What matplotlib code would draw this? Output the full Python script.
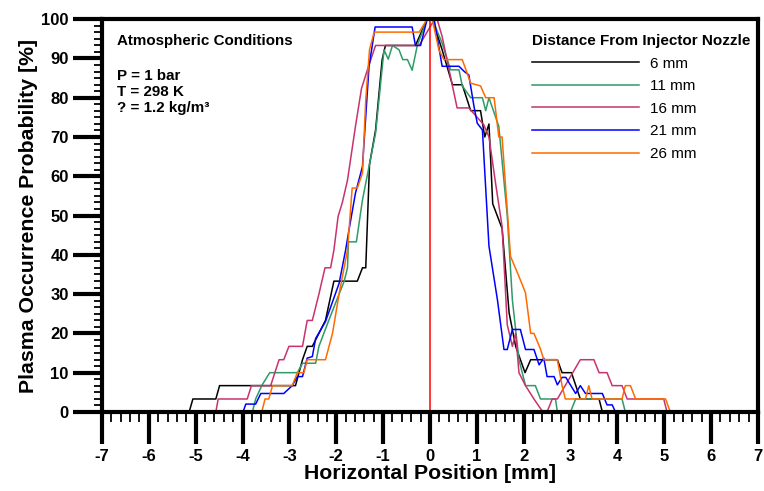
import numpy as np
import matplotlib
matplotlib.use("Agg")
import matplotlib.pyplot as plt
from matplotlib.ticker import MultipleLocator

plt.rcParams['font.family'] = ['Liberation Sans', 'DejaVu Sans']
plt.rcParams['axes.unicode_minus'] = False

# digitised vertices of each curve (position in mm, probability in %)
x_6 = [-5.14, -5.06, -4.57, -4.49, -2.87, -2.72, -2.62, -2.51, -2.37, -2.23,
       -2.05, -1.55, -1.44, -1.37, -1.29, -1.16, -1.02, -0.95, -0.31, -0.06,
       0.05, 0.26, 0.48, 0.69, 0.87, 1.08, 1.17, 1.26, 1.34, 1.54, 1.69, 1.83,
       2.03, 2.15, 2.72, 2.82, 3.02, 3.21, 3.61, 3.68]
y_6 = [0, 3.3, 3.3, 6.7, 6.7, 13.3, 16.7, 16.7, 20, 23.3,
       33.3, 33.3, 36.7, 36.7, 63, 71.8, 89.7, 93.3, 93.3, 100,
       100, 92.2, 83.3, 83.3, 76.7, 76.7, 70, 73.3, 53, 46.7, 25.2, 16.7,
       10, 13.3, 13.3, 10, 10, 3.3, 3.3, 0]

x_11 = [-3.79, -3.72, -3.59, -3.42, -2.83, -2.72, -2.44, -2.37, -2.16, -1.94,
        -1.83, -1.76, -1.74, -1.57, -1.44, -1.30, -1.16, -0.98, -0.89, -0.80,
        -0.66, -0.58, -0.48, -0.38, -0.27, -0.06, 0.05, 0.26, 0.44, 0.62,
        0.69, 0.87, 1.12, 1.19, 1.26, 1.47, 1.65, 1.76, 1.90, 2.04, 2.25,
        2.36, 2.68, 2.72, 3.00, 3.11, 4.10, 4.17]
y_11 = [0, 3.3, 6.7, 10, 10, 12.4, 12.4, 16.7, 23.3, 30,
        33.3, 36.7, 43.3, 43.3, 54, 62.5, 71, 92.2, 89.8, 93.3,
        92.2, 89.7, 89.7, 87, 93.3, 100, 100, 93.9, 87.1, 87.1,
        83, 80, 80, 76.7, 80, 72.7, 50, 28.5, 13.3, 6.7, 6.7,
        3.3, 3.3, 0, 0, 3.3, 3.3, 0]

x_16 = [-4.57, -4.52, -3.90, -3.81, -3.40, -3.22, -3.12, -3.01, -2.72, -2.62,
        -2.51, -2.37, -2.24, -2.12, -2.05, -1.96, -1.87, -1.76, -1.59, -1.46,
        -1.30, -1.16, -0.23, 0.10, 0.16, 0.26, 0.48, 0.58, 0.83, 1.15, 1.26,
        1.40, 1.54, 1.65, 1.76, 1.83, 1.90, 2.04, 2.22, 2.41, 2.50, 2.61,
        2.72, 3.21, 3.50, 3.61, 3.78, 3.89, 4.10, 4.21, 4.99, 5.06]
y_16 = [0, 3.3, 3.3, 6.7, 6.7, 13.3, 13.3, 16.7, 16.7, 23.3,
        23.3, 30, 36.7, 36.7, 41.2, 49.8, 53.3, 59, 72.7, 82.4,
        88.4, 93.3, 93.3, 100, 99.7, 95.6, 83, 77.4, 77.4, 73.1, 70,
        58.3, 47.2, 22.2, 16.7, 20, 10, 6.7, 3.3, 0, 0, 3.3,
        3.3, 13.3, 13.3, 10, 10, 6.7, 6.7, 3.3, 3.3, 0]

x_21 = [-3.99, -3.93, -3.72, -3.61, -3.12, -2.94, -2.83, -2.72, -2.62, -2.51,
        -2.44, -2.23, -1.94, -1.80, -1.74, -1.59, -1.44, -1.30, -1.17, -0.38,
        -0.31, -0.20, -0.06, 0.09, 0.26, 0.62, 0.73, 0.83, 0.94, 1.01, 1.12,
        1.26, 1.44, 1.58, 1.65, 1.76, 1.93, 2.04, 2.22, 2.33, 2.43, 2.50,
        2.65, 2.72, 2.82, 2.90, 3.11, 3.21, 3.32, 3.68, 3.78, 3.89, 3.96]
y_21 = [0, 2, 2, 4.7, 4.7, 6.7, 9, 9, 13.7, 14.1,
        18.7, 23, 32.7, 41.2, 45.5, 55.7, 62.5, 88, 98, 98,
        93.3, 93.3, 100, 100, 88, 88, 86.7, 85.8, 77.8, 73.5, 71.8,
        42.2, 28.6, 15.9, 15.9, 21, 21, 15.9, 15.9, 12, 13.7, 9,
        9, 6.9, 8.8, 8.8, 4.7, 6.7, 4.7, 4.7, 1.8, 1.8, 0]

x_26 = [-3.59, -3.52, -3.44, -3.36, -2.94, -2.83, -2.69, -2.62, -2.23, -2.08,
        -1.94, -1.76, -1.66, -1.55, -1.44, -1.37, -1.29, -1.19, -0.23, -0.06,
        0.05, 0.19, 0.30, 0.69, 0.87, 1.08, 1.19, 1.37, 1.47, 1.54, 1.72,
        1.90, 2.04, 2.15, 2.22, 2.36, 2.43, 2.72, 2.82, 2.89, 3.32, 3.39,
        3.46, 4.10, 4.17, 4.28, 4.39, 5.03, 5.13]
y_26 = [0, 3.3, 3.3, 6.7, 6.7, 10, 10, 13.3, 13.3, 20,
        30, 41.2, 57, 57, 60.8, 79.5, 92.2, 96.7, 96.7, 100,
        100, 92.2, 89.7, 89.7, 83.7, 83, 80, 80, 70, 70, 39.6,
        34.5, 30.3, 20, 20, 16, 13.3, 13.3, 6.7, 3.3, 3.3, 6.7,
        3.3, 3.3, 6.7, 6.7, 3.3, 3.3, 0]

labels = ['6 mm', '11 mm', '16 mm', '21 mm', '26 mm']
colors = ['black', '#2e9b68', '#c8336e', '#0000ff', '#ff6a00']
series = [(x_6, y_6), (x_11, y_11), (x_16, y_16), (x_21, y_21), (x_26, y_26)]

fig = plt.figure(figsize=(7.64, 4.91), dpi=100)
ax = fig.add_axes([0.1335, 0.161, 0.8585, 0.8])

for (xs, ys), c, lab in zip(series, colors, labels):
    ax.plot(xs, ys, color=c, lw=1.1, label=lab)

ax.axvline(0, color='red', lw=1.1)

ax.set_xlim(-7, 7)
ax.set_ylim(0, 100)
ax.xaxis.set_major_locator(MultipleLocator(1))
ax.xaxis.set_minor_locator(MultipleLocator(0.2))
ax.yaxis.set_major_locator(MultipleLocator(10))
ax.yaxis.set_minor_locator(MultipleLocator(10 / 6))

for s in ax.spines.values():
    s.set_linewidth(3)
ax.tick_params(axis='x', which='major', direction='out', length=23, width=3,
               pad=4, labelsize=12)
ax.tick_params(axis='x', which='minor', direction='out', length=7, width=1.3)
ax.tick_params(axis='y', which='major', direction='out', length=21, width=3,
               pad=3, labelsize=12)
ax.tick_params(axis='y', which='minor', direction='out', length=6, width=1.3)
for t in ax.get_xticklabels() + ax.get_yticklabels():
    t.set_fontweight('bold')

ax.set_xlabel('Horizontal Position [mm]', fontsize=15.3, fontweight='bold',
              labelpad=0)
ax.set_ylabel('Plasma Occurrence Probability [%]', fontsize=15.3,
              fontweight='bold', labelpad=2)

ax.text(0.023, 0.945, 'Atmospheric Conditions', transform=ax.transAxes,
        fontsize=10.9, fontweight='bold', va='center')
ax.text(0.023, 0.856, 'P = 1 bar', transform=ax.transAxes,
        fontsize=10.9, fontweight='bold', va='center')
ax.text(0.023, 0.815, 'T = 298 K', transform=ax.transAxes,
        fontsize=10.9, fontweight='bold', va='center')
ax.text(0.023, 0.774, '? = 1.2 kg/m\u00b3', transform=ax.transAxes,
        fontsize=10.9, fontweight='bold', va='center')

leg = ax.legend(loc='upper left', bbox_to_anchor=(0.655, 0.962),
                frameon=False, fontsize=11, handlelength=7.06,
                handletextpad=0.72, labelspacing=0.56, borderpad=0,
                borderaxespad=0,
                title='Distance From Injector Nozzle',
                title_fontproperties={'weight': 'bold', 'size': 11})
leg._legend_box.align = 'left'

fig.savefig('out.png', dpi=100)
